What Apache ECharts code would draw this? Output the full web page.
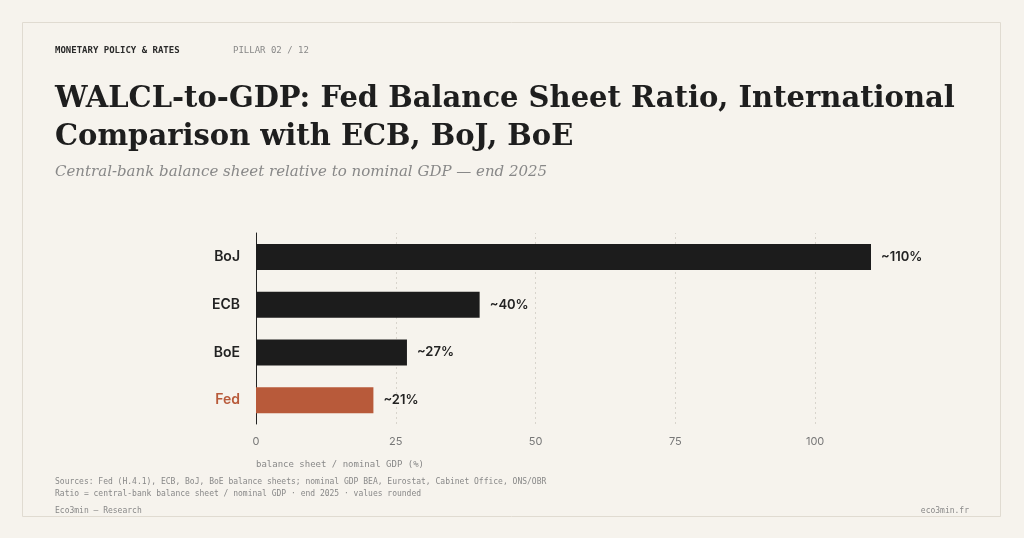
<!DOCTYPE html>
<html>
<head>
<meta charset="utf-8">
<script src="https://cdn.jsdelivr.net/npm/echarts@6/dist/echarts.min.js"></script>
<style>
  html, body { margin: 0; padding: 0; background: #f6f3ed; }
  #chart { width: 1024px; height: 538px; }
</style>
</head>
<body>
<div id="chart"></div>
<script>
// data
const banks = ['Fed', 'BoE', 'ECB', 'BoJ'];
const ratios = [21, 27, 40, 110];
const gridValues = [25, 50, 75, 100];

const MONO = '"DejaVu Sans Mono", monospace';
const SERIF = '"DejaVu Serif", serif';
const SANS = 'Inter, "Noto Sans", sans-serif';

const chart = echarts.init(document.getElementById('chart'));

chart.setOption({
  backgroundColor: '#f6f3ed',
  animation: false,
  grid: { left: 256, right: 153, top: 233, bottom: 114 },
  xAxis: {
    type: 'value', min: 0, max: 110, interval: 25,
    axisLine: { show: false }, axisTick: { show: false },
    splitLine: { show: false },
    axisLabel: { showMaxLabel: false, color: '#777', fontFamily: SANS, fontSize: 11, margin: 12 },
    name: 'balance sheet / nominal GDP (%)',
    nameLocation: 'start', nameGap: 0,
    nameTextStyle: { color: '#888', fontFamily: MONO, fontSize: 9, align: 'left', verticalAlign: 'top', padding: [36, 0, 0, 0] }
  },
  yAxis: {
    type: 'category', data: banks,
    axisLine: { lineStyle: { color: '#222', width: 1 } },
    axisTick: { show: false },
    axisLabel: {
      fontFamily: SANS, fontSize: 14, fontWeight: 600, margin: 16,
      color: v => v === 'Fed' ? '#b85a3a' : '#222'
    }
  },
  series: [{
    type: 'bar', barWidth: 26, z: 3,
    data: ratios.map((v, i) => ({ value: v, itemStyle: { color: banks[i] === 'Fed' ? '#b85a3a' : '#1c1c1c' } })),
    label: {
      show: true, position: 'right', distance: 10, fontFamily: SANS, fontSize: 13, fontWeight: 600,
      formatter: p => '~' + p.value + '%',
      color: '#222'
    },
    markLine: {
      silent: true, symbol: 'none', label: { show: false }, z: 1,
      lineStyle: { color: '#d8d4cc', type: [2, 3], width: 1 },
      data: gridValues.map(v => ({ xAxis: v }))
    }
  }],
  graphic: [
    { type: 'rect', shape: { x: 22.5, y: 22.5, width: 978, height: 494 }, style: { fill: 'none', stroke: '#e0dbd1', lineWidth: 1 }, silent: true },
    { type: 'text', left: 55, top: 46, style: { text: 'MONETARY POLICY & RATES', fill: '#2a2a2a', font: 'bold 9px ' + MONO } },
    { type: 'text', left: 233, top: 46, style: { text: 'PILLAR 02 / 12', fill: '#888', font: '9px ' + MONO } },
    { type: 'text', left: 55, top: 80, style: { text: 'WALCL-to-GDP: Fed Balance Sheet Ratio, International\nComparison with ECB, BoJ, BoE', fill: '#1e1e1e', font: 'bold 29px ' + SERIF, lineHeight: 38 } },
    { type: 'text', left: 55, top: 165, style: { text: 'Central-bank balance sheet relative to nominal GDP — end 2025', fill: '#888', font: 'italic 15px ' + SERIF } },
    { type: 'text', left: 55, top: 476, style: { text: 'Sources: Fed (H.4.1), ECB, BoJ, BoE balance sheets; nominal GDP BEA, Eurostat, Cabinet Office, ONS/OBR\nRatio = central-bank balance sheet / nominal GDP · end 2025 · values rounded', fill: '#888', font: '8px ' + MONO, lineHeight: 12 } },
    { type: 'text', left: 55, top: 507, style: { text: 'Eco3min — Research', fill: '#888', font: '8px ' + MONO } },
    { type: 'text', right: 55, top: 507, style: { text: 'eco3min.fr', fill: '#888', font: '8px ' + MONO } }
  ]
});
</script>
</body>
</html>
